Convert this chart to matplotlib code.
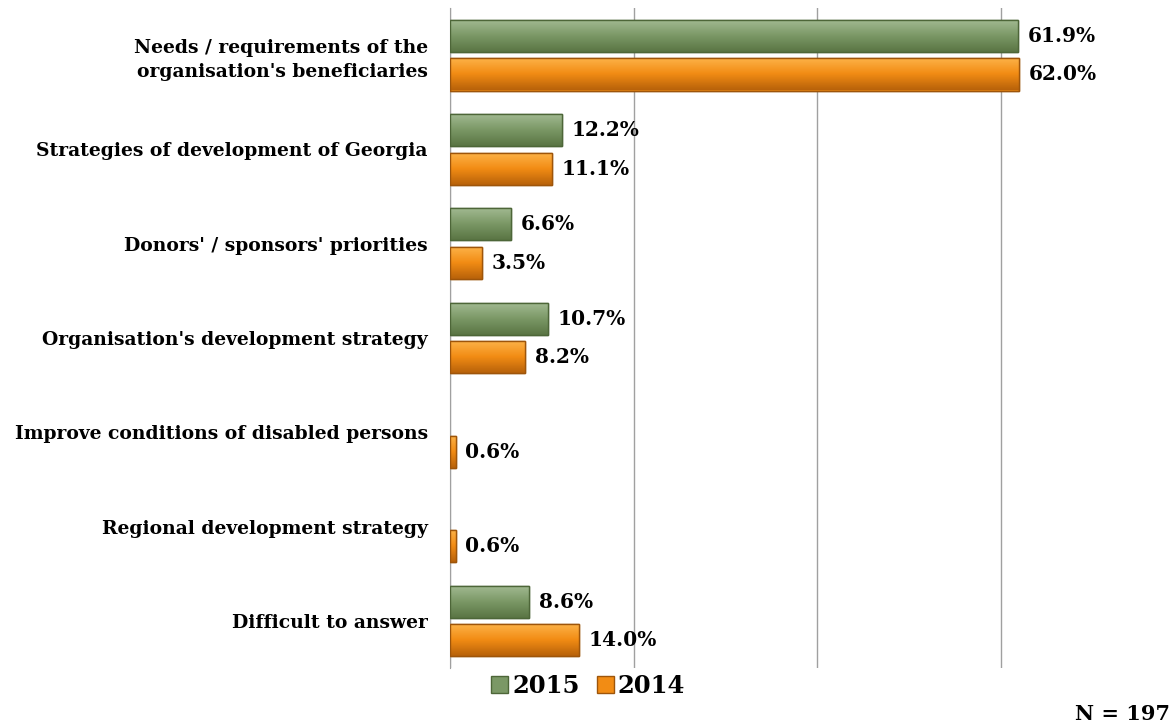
"""Grouped horizontal bars: what the organisation's priorities are based on."""
import matplotlib
matplotlib.use('Agg')

import numpy as np
import matplotlib.pyplot as plt
from matplotlib.colors import LinearSegmentedColormap
from matplotlib.patches import Patch

categories = [
    "Needs / requirements of the\norganisation's beneficiaries",
    "Strategies of development of Georgia",
    "Donors' / sponsors' priorities",
    "Organisation's development strategy",
    "Improve conditions of disabled persons",
    "Regional development strategy",
    "Difficult to answer",
]
values_2015 = [61.9, 12.2, 6.6, 10.7, np.nan, np.nan, 8.6]
values_2014 = [62.0, 11.1, 3.5, 8.2, 0.6, 0.6, 14.0]
series_names = ['2015', '2014']
n_text = 'N = 197'

font = 'DejaVu Serif'

green_cmap = LinearSegmentedColormap.from_list(
    'g', ['#a3bb93', '#7b9866', '#5a7544'])
orange_cmap = LinearSegmentedColormap.from_list(
    'o', ['#fdb44a', '#f28c14', '#b8620a'])

fig = plt.figure(figsize=(11.72, 7.25), dpi=100)
ax = fig.add_axes([450 / 1172, 1 - 668 / 725, 722 / 1172, 660 / 725])

y = np.arange(len(categories))
off = 0.205
h = 0.34

bars15 = ax.barh(y - off, values_2015, height=h, color='#7b9866',
                 edgecolor='#4d6638', lw=1, zorder=3)
bars14 = ax.barh(y + off, values_2014, height=h, color='#f28c14',
                 edgecolor='#9e550a', lw=1, zorder=3)

# vertical gradient on each bar
grad = np.linspace(0, 1, 64).reshape(-1, 1)
for bars, cmap in ((bars15, green_cmap), (bars14, orange_cmap)):
    for b in bars:
        w = b.get_width()
        if not np.isfinite(w):
            continue
        x0, y0 = b.get_x(), b.get_y()
        im = ax.imshow(grad, cmap=cmap, aspect='auto',
                       extent=(x0, x0 + w, y0 + b.get_height(), y0),
                       zorder=3.5, interpolation='bilinear')
        im.set_clip_path(b)
        # edge drawn on top
        ax.add_patch(plt.Rectangle((x0, y0), w, b.get_height(), fill=False,
                                   ec=b.get_edgecolor(), lw=1, zorder=4))

for bars in (bars15, bars14):
    for b in bars:
        w = b.get_width()
        if not np.isfinite(w):
            continue
        ax.annotate(f'{w:.1f}%', (w, b.get_y() + b.get_height() / 2),
                    xytext=(7, 0), textcoords='offset points',
                    ha='left', va='center', fontsize=14.5,
                    fontweight='bold', family=font, zorder=5)

ax.set_xlim(0, 722 / 9.18)
ax.set_ylim(len(categories) - 0.5, -0.5)
ax.set_xticks([0, 20, 40, 60])
ax.set_xticklabels([])
ax.tick_params(axis='both', length=0)
ax.tick_params(axis='y', pad=16)
ax.set_yticks(y)
ax.set_yticklabels(categories, fontsize=13.5, fontweight='bold',
                   family=font, ha='right', linespacing=1.45)
ax.grid(axis='x', color='#a0a0a0', lw=1, zorder=0)
for side in ('top', 'right', 'bottom'):
    ax.spines[side].set_visible(False)
ax.spines['left'].set_color('#a0a0a0')

handles = [Patch(facecolor='#7b9866', edgecolor='#4d6638'),
           Patch(facecolor='#f28c14', edgecolor='#9e550a')]
fig.legend(handles, series_names, loc='center', bbox_to_anchor=(588 / 1172, 1 - 686 / 725),
           ncol=2, frameon=False, handlelength=0.7, handleheight=0.7,
           handletextpad=0.15, columnspacing=0.7,
           prop={'family': font, 'weight': 'bold', 'size': 17.5})

fig.text(1170 / 1172, 1 - 714 / 725, n_text, ha='right', va='center',
         fontsize=15, fontweight='bold', family=font)

fig.savefig('out.png', dpi=100)
